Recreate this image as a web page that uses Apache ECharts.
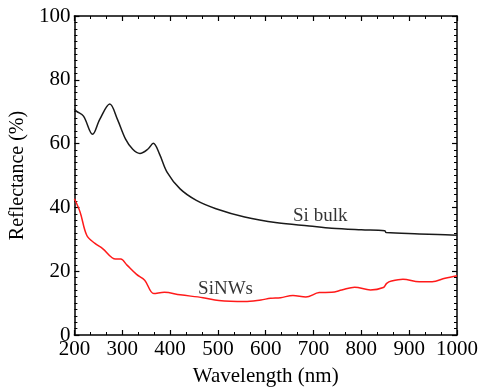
<!DOCTYPE html>
<html>
<head>
<meta charset="utf-8">
<script src="https://cdn.jsdelivr.net/npm/echarts@6/dist/echarts.min.js"></script>
<style>
  html, body { margin: 0; padding: 0; background: #fff; }
  #chart { width: 481px; height: 392px; }
</style>
</head>
<body>
<div id="chart"></div>
<script>
// Si bulk 反射率
const bulkWavelength = [200, 204, 219, 238, 253, 274, 290, 307, 322, 337, 354, 365, 378, 394, 421, 455, 496, 556, 624, 691, 738, 800, 849, 852, 921, 960, 1000];
const bulkReflectance = [70.9, 70.2, 68.6, 62.9, 67.6, 72.4, 67.6, 61.4, 58.2, 56.9, 58.3, 60.1, 56.7, 51.0, 45.8, 42.2, 39.6, 37.0, 35.2, 34.2, 33.5, 33.0, 32.7, 32.1, 31.7, 31.5, 31.3];

// SiNWs 反射率
const nwWavelength = [200, 212, 226, 243, 259, 286, 297, 310, 330, 347, 366, 388, 421, 469, 502, 556, 590, 610, 631, 657, 684, 712, 738, 759, 786, 819, 846, 853, 863, 887, 921, 948, 975, 1000];
const nwReflectance = [42.7, 38.5, 31.2, 28.7, 27.1, 23.8, 23.8, 21.9, 19.0, 17.2, 13.0, 13.4, 12.6, 11.7, 10.8, 10.5, 11.0, 11.5, 11.7, 12.4, 11.9, 13.3, 13.4, 14.1, 15.0, 14.1, 14.9, 16.2, 16.9, 17.5, 16.7, 16.7, 17.8, 18.6];

// 曲线标注
const curveLabels = [
    { text: 'Si bulk', x: 714, y: 37.2 },
    { text: 'SiNWs', x: 516, y: 14.5 }
];

const pairs = (xs, ys) => xs.map((x, i) => [x, ys[i]]);

const chart = echarts.init(document.getElementById('chart'));
const font = '"Liberation Serif", serif';
const axisLine = { show: true, onZero: false, lineStyle: { color: '#000', width: 1.5 } };
const tick = { inside: true, length: 5, lineStyle: { color: '#000', width: 1.2 } };
const minor = (n) => ({ show: true, splitNumber: n, length: 3, lineStyle: { color: '#000', width: 1 } });

const option = {
    animation: false,
    grid: { left: 64, right: 22, top: 16, bottom: 55 },
    xAxis: [
        {
            type: 'value', min: 200, max: 1000, interval: 100, position: 'bottom',
            name: 'Wavelength (nm)', nameLocation: 'middle', nameGap: 31,
            nameTextStyle: { fontFamily: font, fontSize: 21, color: '#000' },
            axisLine: axisLine, axisTick: tick, minorTick: minor(3),
            axisLabel: { fontFamily: font, fontSize: 21, color: '#000', margin: 4,
                formatter: (v) => String(v) },
            splitLine: { show: false }
        },
        {
            type: 'value', min: 200, max: 1000, interval: 100, position: 'top',
            axisLine: axisLine, axisTick: tick, minorTick: minor(3),
            axisLabel: { show: false },
            splitLine: { show: false }
        }
    ],
    yAxis: [
        {
            type: 'value', min: 0, max: 100, interval: 20, position: 'left',
            name: 'Reflectance (%)', nameLocation: 'middle', nameGap: 40,
            nameTextStyle: { fontFamily: font, fontSize: 20, color: '#000' },
            axisLine: axisLine, axisTick: tick, minorTick: minor(10),
            axisLabel: { fontFamily: font, fontSize: 21, color: '#000', margin: 4 },
            splitLine: { show: false }
        },
        {
            type: 'value', min: 0, max: 100, interval: 20, position: 'right',
            axisLine: axisLine, axisTick: tick, minorTick: minor(10),
            axisLabel: { show: false },
            splitLine: { show: false }
        }
    ],
    series: [
        {
            name: 'Si bulk', type: 'line', smooth: 0.35, symbol: 'none',
            data: pairs(bulkWavelength, bulkReflectance),
            lineStyle: { color: '#1a1a1a', width: 1.5 }
        },
        {
            name: 'SiNWs', type: 'line', smooth: 0.35, symbol: 'none',
            data: pairs(nwWavelength, nwReflectance),
            lineStyle: { color: '#ff1a1a', width: 1.5 }
        },
        {
            type: 'scatter', symbolSize: 0, silent: true,
            data: curveLabels.map(d => ({ value: [d.x, d.y], name: d.text })),
            label: { show: true, position: 'inside', formatter: (p) => p.name,
                fontFamily: font, fontSize: 19, color: '#000' }
        }
    ]
};

chart.setOption(option);
</script>
</body>
</html>
